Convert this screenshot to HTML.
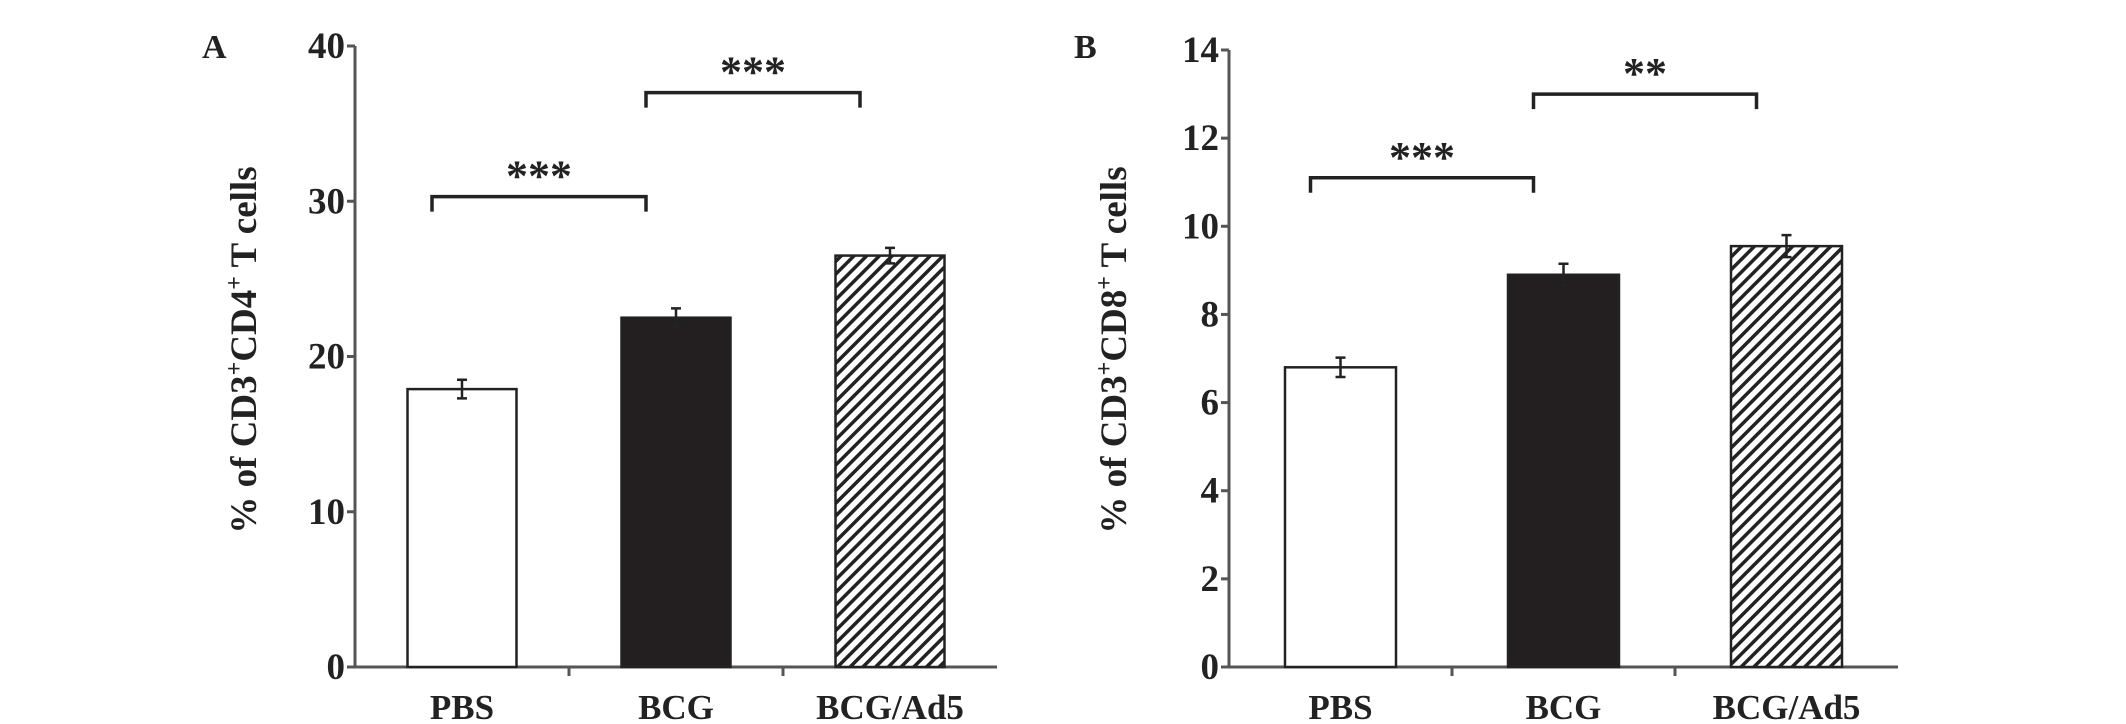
<!DOCTYPE html>
<html><head><meta charset="utf-8">
<style>html,body{margin:0;padding:0;background:#fff}svg{display:block}
text{font-family:"Liberation Serif",serif;font-weight:bold;fill:#222}</style></head>
<body>
<svg id="fig" width="2126" height="724" viewBox="0 0 2126 724" xmlns="http://www.w3.org/2000/svg">
<defs>
<pattern id="hatch" patternUnits="userSpaceOnUse" width="9" height="9" patternTransform="rotate(45)">
<rect width="9" height="9" fill="#fff"/><rect width="3.5" height="9" fill="#222"/>
</pattern>
</defs>
</svg>
<script>
const categories = ["PBS", "BCG", "BCG/Ad5"];
const valuesA = [17.9, 22.5, 26.5];
const errorsA = [0.6, 0.6, 0.5];
const ticksA = [0, 10, 20, 30, 40];
const valuesB = [6.8, 8.9, 9.55];
const errorsB = [0.22, 0.25, 0.25];
const ticksB = [0, 2, 4, 6, 8, 10, 12, 14];
const sigA = [{from:0,to:1,level:30.3,label:"***"},{from:1,to:2,level:37.0,label:"***"}];
const sigB = [{from:0,to:1,level:11.1,label:"***"},{from:1,to:2,level:13.0,label:"**"}];

const NS = "http://www.w3.org/2000/svg";
const svg = document.getElementById("fig");
function mk(tag, attrs, parent, txt){
  const e = document.createElementNS(NS, tag);
  for (const k in attrs) e.setAttribute(k, attrs[k]);
  if (txt !== undefined) e.textContent = txt;
  (parent || svg).appendChild(e);
  return e;
}
const fills = ["#fff", "#231f20", "url(#hatch)"];

function panel(cfg){
  const g = mk("g", {});
  
  
  const y = v => cfg.y0 - (v / cfg.max) * (cfg.y0 - cfg.yTop);
  const catW = (cfg.xEnd - cfg.xAxis) / categories.length;
  const cx = i => cfg.xAxis + catW * (i + 0.5);
  const ya = mk("line", {x1:cfg.xAxis, y1:y(cfg.max), x2:cfg.xAxis, y2:cfg.y0, stroke:"#555", "stroke-width":3}, g);
  
  
  const xa = mk("line", {x1:cfg.xAxis-8, y1:cfg.y0, x2:cfg.xEnd, y2:cfg.y0, stroke:"#555", "stroke-width":3}, g);
  
  
  cfg.ticks.forEach(t => {
    mk("line", {x1:cfg.xAxis-8, y1:y(t), x2:cfg.xAxis, y2:y(t), stroke:"#555", "stroke-width":3}, g);
    const tl = mk("text", {x:cfg.xAxis-10, y:y(t)+12, "text-anchor":"end", "font-size":37}, g, String(t));
    
    
  });
  for (let i = 1; i < categories.length; i++) {
    const tx = cfg.xAxis + catW * i;
    mk("line", {x1:tx, y1:cfg.y0, x2:tx, y2:cfg.y0+9, stroke:"#555", "stroke-width":3}, g);
  }
  categories.forEach((c, i) => {
    const bw = cfg.barW;
    const bar = mk("rect", {x:cx(i)-bw/2, y:y(cfg.values[i]), width:bw, height:cfg.y0 - y(cfg.values[i]), fill:fills[i], stroke:"#222", "stroke-width":2.5}, g);
    
    
    const e = cfg.errors[i];
    const eb = mk("path", {d:`M${cx(i)} ${y(cfg.values[i]+e)}V${y(cfg.values[i]-e)}M${cx(i)-5} ${y(cfg.values[i]+e)}H${cx(i)+5}M${cx(i)-5} ${y(cfg.values[i]-e)}H${cx(i)+5}`, stroke:"#222", "stroke-width":2.5, fill:"none"}, g);
    
    
    const cl = mk("text", {x:cx(i), y:cfg.y0+52, "text-anchor":"middle", "font-size":35}, g, c);
    
    
  });
  cfg.sig.forEach(s => {
    const x1 = cx(s.from) - 30, x2 = cx(s.to) - 30, yy = y(s.level);
    const br = mk("path", {d:`M${x1} ${yy+15}V${yy}H${x2}V${yy+15}`, stroke:"#222", "stroke-width":3.5, fill:"none"}, g);
    
    
    const st = mk("text", {x:(x1+x2)/2, y:yy-6, "text-anchor":"middle", "font-size":44}, g, s.label);
    
    
  });
  const tt = mk("text", {x:0, y:0, "text-anchor":"middle", "font-size":37, transform:`translate(${cfg.titleX},350) rotate(-90)`}, g);
  
  
  tt.innerHTML = `% of CD3<tspan dy="-14" font-size="24">+</tspan><tspan dy="14">${cfg.cd}</tspan><tspan dy="-14" font-size="24">+</tspan><tspan dy="14"> T cells</tspan>`;
  const pl = mk("text", {x:cfg.letterX, y:58, "font-size":34}, g, cfg.letter);
  
  
}
panel({name:"panel-a", xAxis:355, xEnd:997, y0:667, yTop:46, max:40, ticks:ticksA, values:valuesA, errors:errorsA, sig:sigA, barW:109, titleX:256, cd:"CD4", letter:"A", letterX:202});
panel({name:"panel-b", xAxis:1229, xEnd:1898, y0:667, yTop:50, max:14, ticks:ticksB, values:valuesB, errors:errorsB, sig:sigB, barW:111, titleX:1126, cd:"CD8", letter:"B", letterX:1074});
</script>
</body></html>
